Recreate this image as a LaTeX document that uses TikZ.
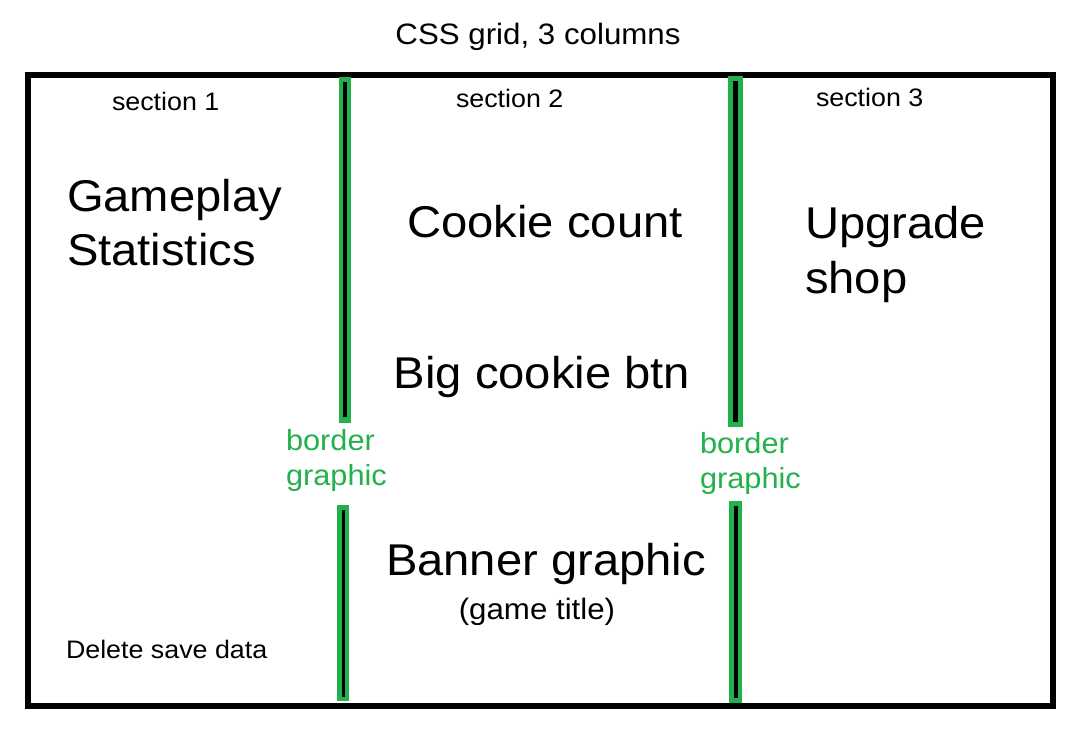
\documentclass[tikz,border=0pt]{standalone}
\usepackage{fontspec}
\setmainfont{Liberation Sans}[FakeStretch=1.06]
\definecolor{paintgreen}{HTML}{22B14C}
\begin{document}
\begin{tikzpicture}[x=1pt,y=-1pt,
  txt/.style={inner sep=0pt,outer sep=0pt,text=black},
  big/.style={txt,font=\fontsize{44.5}{55}\selectfont},
  mid/.style={txt,font=\fontsize{29.5}{35}\selectfont},
  small/.style={txt,font=\fontsize{25.3}{30}\selectfont},
  bordertxt/.style={txt,text=paintgreen,font=\fontsize{29}{36}\selectfont},
  greenbar/.style={fill=paintgreen},
  blackbar/.style={fill=black}]
\useasboundingbox (0,0) rectangle (1092,744);
\fill[white] (0,0) rectangle (1092,744);
% outer grid box
\draw[line width=6pt] (28,74.5) rectangle (1053,706);
% column border graphics
\fill[greenbar] (339,77) rectangle (351,423);
\fill[blackbar] (343,82) rectangle (346.5,417);
\fill[greenbar] (337,505) rectangle (349,701);
\fill[blackbar] (341.5,510) rectangle (344.5,697);
\fill[greenbar] (728,76) rectangle (743,427);
\fill[blackbar] (733,81) rectangle (738,422);
\fill[greenbar] (729,501) rectangle (742,703);
\fill[blackbar] (734,506) rectangle (737.5,698);
% texts
\node[mid,anchor=base] (title) at (538,44) {CSS grid, 3 columns};
\node[small,anchor=base west] (s1) at (112,110) {section 1};
\node[small,anchor=base west] (s2) at (456,107) {section 2};
\node[small,anchor=base west] (s3) at (816,106) {section 3};
\node[big,anchor=base west] (gp1) at (67,211) {Gameplay};
\node[big,anchor=base west] (gp2) at (67,265) {Statistics};
\node[big,anchor=base] (cc) at (545,237) {Cookie count};
\node[big,anchor=base west] (up1) at (805,238) {Upgrade};
\node[big,anchor=base west] (up2) at (805,293) {shop};
\node[big,anchor=base] (bcb) at (542,388) {Big cookie btn};
\node[bordertxt,anchor=base west] (bg1a) at (286,450) {border};
\node[bordertxt,anchor=base west] (bg1b) at (286,485) {graphic};
\node[bordertxt,anchor=base west] (bg2a) at (700,453) {border};
\node[bordertxt,anchor=base west] (bg2b) at (700,488) {graphic};
\node[big,anchor=base] (ban) at (546,575) {Banner graphic};
\node[mid,anchor=base] (gt) at (537,619) {(game title)};
\node[small,anchor=base west] (del) at (66,658) {Delete save data};
\end{tikzpicture}
\end{document}
